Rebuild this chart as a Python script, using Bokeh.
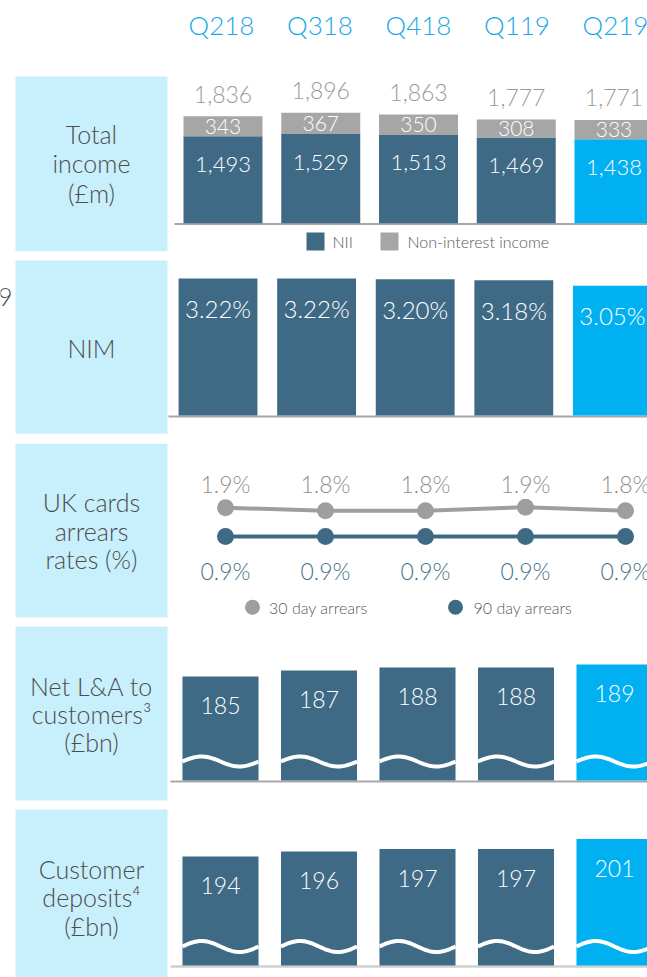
import numpy as np
from bokeh.plotting import figure
from bokeh.models import Range1d
from bokeh.embed import file_html
from bokeh.resources import INLINE
from bokeh.core.properties import value

# ---------------- data ----------------
quarters = ["Q218", "Q318", "Q418", "Q119", "Q219"]
nii = [1493, 1529, 1513, 1469, 1438]
non_interest = [343, 367, 350, 308, 333]
total_income = [1836, 1896, 1863, 1777, 1771]
nim = [3.22, 3.22, 3.20, 3.18, 3.05]
arrears_30 = [1.90, 1.80, 1.80, 1.92, 1.80]
arrears_90 = [0.9, 0.9, 0.9, 0.9, 0.9]
net_la = [185, 187, 188, 188, 189]
deposits = [194, 196, 197, 197, 201]
panel_titles = [
    ["Total", "income", "(£m)"],
    ["NIM"],
    ["UK cards", "arrears", "rates (%)"],
    ["Net L&A to", "customers³", "(£bn)"],
    ["Customer", "deposits⁴", "(£bn)"],
]
legend_income = ["NII", "Non-interest income"]
legend_arrears = ["30 day arrears", "90 day arrears"]

# ---------------- styles ----------------
DARK = "#3f6a86"
HIGH = "#00b0f0"
GREY = "#a6a6a6"
BOX = "#c8effc"
TXT = "#4d4d4d"
QCOL = "#17a8e6"
FONT = value("Lato Light")

W, H = 647, 977
OX, OY = 0, 0

p = figure(width=W, height=H, output_backend="svg", toolbar_location=None,
           x_range=Range1d(OX, OX + W), y_range=Range1d(OY + H, OY),
           x_axis_location=None, y_axis_location=None, min_border=0,
           outline_line_color=None, background_fill_color="white")
p.xgrid.visible = False
p.ygrid.visible = False


def xr(c0, s):
    return Range1d((OX - c0) / s, (OX + W - c0) / s)


def yr(y0, k, v0=0.0):
    return Range1d(v0 + (y0 - (OY + H)) / k, v0 + (y0 - OY) / k)


p.extra_x_ranges = {"hx": xr(221, 98.5), "x1": xr(222.5, 97.75), "x2": xr(217.5, 98.6),
                    "x3": xr(225, 100), "x4": xr(220, 98.5)}
BASE4, BASE5 = 150.3, 150.4
p.extra_y_ranges = {"y1": yr(222.7, 0.0583), "y2": yr(415, 42.55), "y3": yr(536, 28.7, 0.9),
                    "y4": yr(780, 3.0, BASE4), "y5": yr(965, 2.5, BASE5)}

idx = list(range(len(quarters)))
colors = [DARK] * (len(quarters) - 1) + [HIGH]

# panel boxes
box_tops = [76, 260, 443.3, 626, 809]
box_bottoms = [250.7, 433.3, 616.7, 800, 980]
p.quad(left=15, right=167, top=box_tops, bottom=box_bottoms, fill_color=BOX, line_color=None)

# panel titles
title_centers = [[133, 162.5, 192], [347.7], [501.7, 530, 558.3], [685, 713.3, 741.7], [868.3, 896.7, 925]]
tx, ty = [], []
for lines, ys in zip(panel_titles, title_centers):
    tx += lines
    ty += ys
p.text(x=91, y=ty, text=tx, text_font=FONT, text_font_size="25px", text_color=TXT,
       text_align="center", text_baseline="middle")
# fragment of a neighbouring slide's label at the left edge
p.text(x=12, y=296, text=["9"], text_font=FONT, text_font_size="25px", text_color=TXT,
       text_align="right", text_baseline="middle")

# header quarters
p.text(x=idx, y=24, text=quarters, x_range_name="hx", text_font=FONT, text_font_size="26px",
       text_color=QCOL, text_align="center", text_baseline="middle")

# baselines
p.segment(x0=[174, 168, 170], y0=[223.5, 416, 781], x1=660, y1=[223.5, 416, 781],
          line_color="#a8a8a8", line_width=2)
p.segment(x0=170, y0=966, x1=660, y1=966, line_color="#cfcfcf", line_width=2.5)

# ---- panel 1: total income ----
bw1 = 0.808
p.vbar(x=idx, width=bw1, bottom=0, top=nii, fill_color=colors, line_color=None,
       x_range_name="x1", y_range_name="y1")
p.vbar(x=idx, width=bw1, bottom=nii, top=[a + b for a, b in zip(nii, non_interest)],
       fill_color=GREY, line_color=None, x_range_name="x1", y_range_name="y1")
p.text(x=idx, y=total_income, text=[f"{v:,}" for v in total_income], y_offset=-22,
       x_range_name="x1", y_range_name="y1", text_font=FONT, text_font_size="23px",
       text_color="#9a9a9a", text_align="center", text_baseline="middle")
p.text(x=idx, y=[a + b / 2 for a, b in zip(nii, non_interest)], text=[f"{v:,}" for v in non_interest],
       x_range_name="x1", y_range_name="y1", text_font=FONT, text_font_size="21px",
       text_color="white", text_align="center", text_baseline="middle")
p.text(x=idx, y=nii, text=[f"{v:,}" for v in nii], y_offset=28,
       x_range_name="x1", y_range_name="y1", text_font=FONT, text_font_size="22px",
       text_color="white", text_align="center", text_baseline="middle")
# legend
p.quad(left=[306, 380], right=[324, 398], top=232, bottom=250, fill_color=[DARK, GREY], line_color=None)
p.text(x=[332, 407], y=241, text=legend_income, text_font=FONT, text_font_size="16px",
       text_color="#595959", text_align="left", text_baseline="middle")

# ---- panel 2: NIM ----
p.vbar(x=idx, width=0.80, bottom=0, top=nim, fill_color=colors, line_color=None,
       x_range_name="x2", y_range_name="y2")
p.text(x=idx, y=nim, text=[f"{v:.2f}%" for v in nim], y_offset=30,
       x_range_name="x2", y_range_name="y2", text_font=FONT, text_font_size="24px",
       text_color="white", text_align="center", text_baseline="middle")

# ---- panel 3: arrears ----
for vals, col in ((arrears_30, "#9e9e9e"), (arrears_90, DARK)):
    p.line(x=idx, y=vals, line_color=col, line_width=4, x_range_name="x3", y_range_name="y3")
    p.scatter(x=idx, y=vals, size=17, fill_color=col, line_color=None,
              x_range_name="x3", y_range_name="y3")
p.text(x=idx, y=483.3, text=[f"{v:.1f}%" for v in arrears_30], x_range_name="x3",
       text_font=FONT, text_font_size="23px", text_color="#8f8f8f",
       text_align="center", text_baseline="middle")
p.text(x=idx, y=570, text=[f"{v:.1f}%" for v in arrears_90], x_range_name="x3",
       text_font=FONT, text_font_size="23px", text_color="#48718b",
       text_align="center", text_baseline="middle")
p.scatter(x=[252, 455], y=606.7, size=15, fill_color=["#9e9e9e", DARK], line_color=None)
p.text(x=[268.5, 473], y=606.7, text=legend_arrears, text_font=FONT, text_font_size="16px",
       text_color="#595959", text_align="left", text_baseline="middle")

# ---- panels 4 & 5: broken-axis bars ----
bw4 = 0.772
t = np.linspace(0, 1, 60)
for vals, yname, base, wave_y, amp in ((net_la, "y4", BASE4, 761, 5.0),
                                       (deposits, "y5", BASE5, 946, 5.5)):
    p.vbar(x=idx, width=bw4, bottom=base, top=vals, fill_color=colors, line_color=None,
           x_range_name="x4", y_range_name=yname)
    xs = [list(i - bw4 / 2 + bw4 * t) for i in idx]
    ys = [list(wave_y - amp * np.sin(2 * np.pi * t)) for _ in idx]
    p.multi_line(xs=xs, ys=ys, line_color="white", line_width=4, x_range_name="x4")
    p.text(x=idx, y=vals, text=[str(v) for v in vals], y_offset=29,
           x_range_name="x4", y_range_name=yname, text_font=FONT, text_font_size="23px",
           text_color="white", text_align="center", text_baseline="middle")

open("out.html", "w").write(file_html(p, INLINE))
